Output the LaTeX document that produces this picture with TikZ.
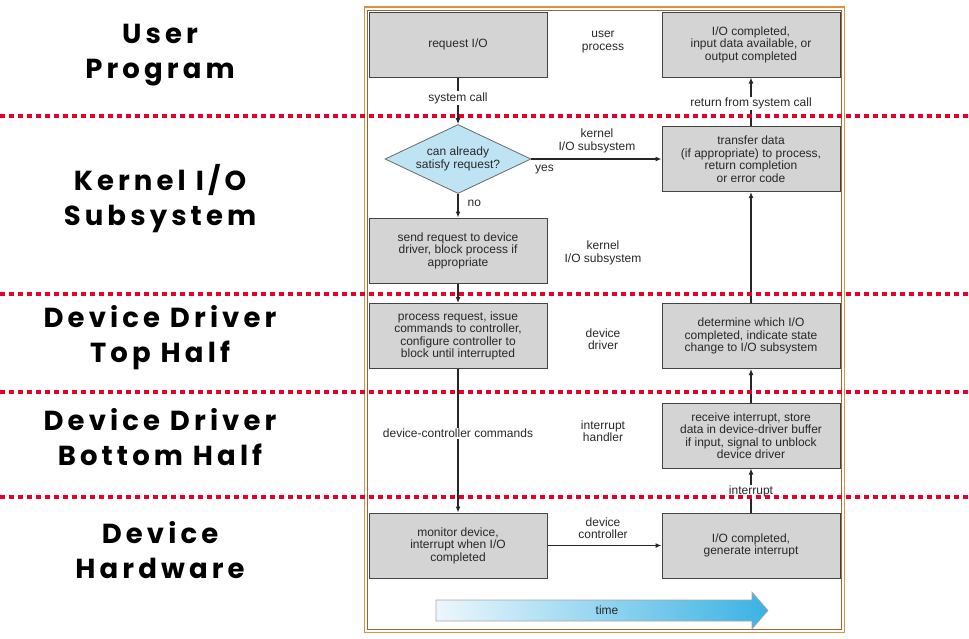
\documentclass[tikz,border=0pt]{standalone}
\usepackage{fontspec}
\setmainfont{Liberation Sans}
\newfontfamily\layerfont{Poppins}[LetterSpace=15]
\usepackage{xcolor}
\usetikzlibrary{arrows.meta, shapes.geometric}

\definecolor{boxgray}{RGB}{212,212,212}
\definecolor{edgegray}{RGB}{68,68,68}
\definecolor{txtgray}{RGB}{40,40,40}
\definecolor{askblue}{RGB}{190,228,244}
\definecolor{frameorange}{RGB}{228,142,62}
\definecolor{dotred}{RGB}{232,0,40}
\definecolor{timeleft}{RGB}{236,247,252}
\definecolor{timeright}{RGB}{58,178,228}

\tikzset{
  stagebox/.style={draw=edgegray, line width=1pt, fill=boxgray, minimum width=178pt, minimum height=65pt,
    align=center, font=\fontsize{12}{12.5}\selectfont, text=txtgray, inner sep=2pt},
  ask/.style={diamond, draw=edgegray!80, line width=0.8pt, fill=askblue, aspect=2.1, minimum width=146pt,
    minimum height=69pt, inner sep=0pt, align=center, font=\fontsize{12}{12.5}\selectfont, text=txtgray},
  note/.style={align=center, font=\fontsize{12}{12.5}\selectfont, text=txtgray, inner sep=1pt},
  flow/.style={line width=1.4pt, draw=black!85, -{Latex[length=6pt, width=5pt]}},
  layer/.style={align=center, font=\layerfont\bfseries\fontsize{27.5}{35}\selectfont},
  sepline/.style={dotred, line width=4pt, dash pattern=on 4.5pt off 4.5pt},
}

\begin{document}
\begin{tikzpicture}[x=1pt, y=-1pt]

    \useasboundingbox (0,0) rectangle (969,638);

    \draw[frameorange, line width=1.4pt] (364.5,7) rectangle (844.5,632.5);
    \draw[frameorange!70!black, line width=0.8pt] (367.5,10.5) rectangle (841.5,629.5);

    \node[stagebox] (request) at (458,44.5) {request I/O};
    \node[stagebox] (done) at (751,44.5) {I/O completed,\\input data available, or\\output completed};
    \node[note] (userproc) at (603,42) {user\\process};

    \node[ask] (check) at (458,159) {can already\\satisfy request?};
    \node[stagebox] (transfer) at (751,159) {transfer data\\(if appropriate) to process,\\return completion\\or error code};
    \node[note] (kernA) at (597,141) {kernel\\I/O subsystem};

    \node[stagebox] (send) at (458,250.5) {send request to device\\driver, block process if\\appropriate};
    \node[note] (kernB) at (603,253) {kernel\\I/O subsystem};

    \node[stagebox] (issue) at (458,336) {process request, issue\\commands to controller,\\configure controller to\\block until interrupted};
    \node[stagebox] (determine) at (751,336) {determine which I/O\\completed, indicate state\\change to I/O subsystem};
    \node[note] (drv) at (603,339) {device\\driver};

    \node[stagebox] (receive) at (751,435.5) {receive interrupt, store\\data in device-driver buffer\\if input, signal to unblock\\device driver};
    \node[note] (handler) at (603,431) {interrupt\\handler};

    \node[stagebox] (monitor) at (458,545.5) {monitor device,\\interrupt when I/O\\completed};
    \node[stagebox] (generate) at (751,545.5) {I/O completed,\\generate interrupt};
    \node[note] (ctrl) at (603,528) {device\\controller};

    \draw[flow] (request) -- node[note, fill=white, pos=0.44] (syscall) {system call} (check);
    \draw[flow] (check) -- node[note, anchor=north west, pos=0, xshift=2pt, yshift=-4pt] (yes) {yes} (transfer);
    \draw[flow] (check) -- node[note, right=8pt, pos=0.38] (no) {no} (send);
    \draw[flow] (send) -- (issue);
    \draw[flow] (issue) -- node[note, fill=white, pos=0.45] (ctrlcmd) {device-controller commands} (monitor);
    \draw[flow] (monitor) -- (generate);
    \draw[flow] (generate) -- node[note, fill=white, pos=0.47] (irq) {interrupt} (receive);
    \draw[flow] (receive) -- (determine);
    \draw[flow] (determine) -- (transfer);
    \draw[flow] (transfer) -- node[note, fill=white, pos=0.46] (sysret) {return from system call} (done);

    \shadedraw[left color=timeleft, right color=timeright, draw=gray!70, line width=0.6pt]
        (436,600) -- (752,600) -- (752,592) -- (768,610.5) -- (752,629) -- (752,621) -- (436,621) -- cycle;
    \node[note] (time) at (607,610) {time};

    \foreach \y in {116,294,392,497}
    \draw[sepline] (0,\y) -- (969,\y);

    \node[layer] (user) at (160,55) {User\\Program};
    \node[layer] (kernel) at (160,199) {Kernel I/O\\Subsystem};
    \node[layer] (tophalf) at (160,338) {Device Driver\\Top Half};
    \node[layer] (bothalf) at (160,437) {Device Driver\\Bottom Half};
    \node[layer] (hw) at (160,550) {Device\\Hardware};
\end{tikzpicture}
\end{document}
